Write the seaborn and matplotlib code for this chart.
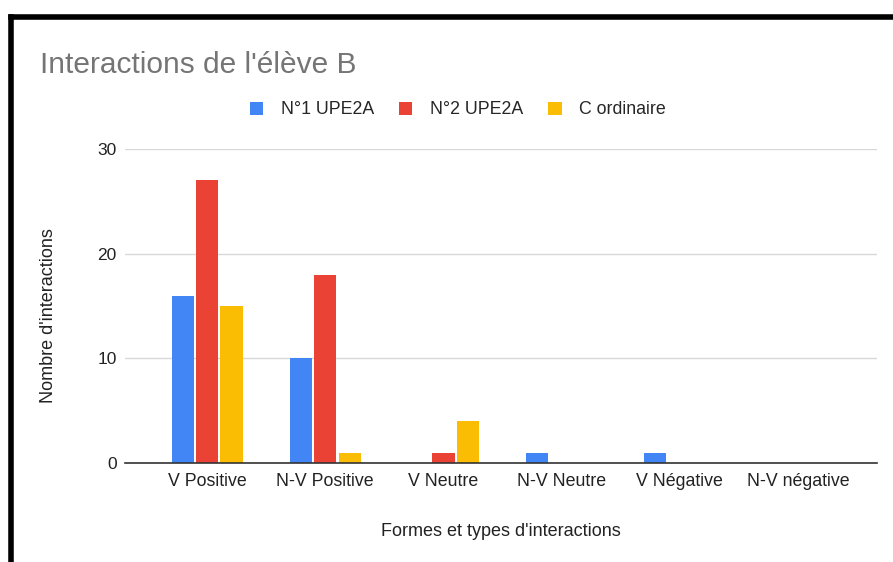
import matplotlib
matplotlib.use("Agg")
import matplotlib.pyplot as plt
import seaborn as sns
import pandas as pd
from matplotlib.lines import Line2D
from matplotlib.patches import Patch

categories = ["V Positive", "N-V Positive", "V Neutre", "N-V Neutre", "V Négative", "N-V négative"]
series_names = ["N°1 UPE2A", "N°2 UPE2A", "C ordinaire"]
n1_upe2a = [16, 10, 0, 1, 1, 0]
n2_upe2a = [27, 18, 1, 0, 0, 0]
c_ordinaire = [15, 1, 4, 0, 0, 0]
colors = ["#4285F4", "#EA4335", "#FBBC04"]
y_ticks = [0, 10, 20, 30]

rows = []
for name, vals in zip(series_names, [n1_upe2a, n2_upe2a, c_ordinaire]):
    for c, v in zip(categories, vals):
        rows.append({"cat": c, "serie": name, "val": v})
df = pd.DataFrame(rows)

sns.set_theme(style="white")
plt.rcParams["font.family"] = ["Liberation Sans", "DejaVu Sans"]

fig = plt.figure(figsize=(8.93, 5.62), dpi=100)
ax = fig.add_axes([125/893, 1-463/562, (877-125)/893, (463-149)/562])

sns.barplot(data=df, x="cat", y="val", hue="serie", order=categories,
            hue_order=series_names, palette=colors, ax=ax, width=0.62,
            saturation=1, legend=False)
for p in ax.patches:
    w = p.get_width()
    p.set_x(p.get_x() + w*0.045)
    p.set_width(w*0.91)
    p.set_edgecolor("none")

ax.set_ylim(0, 30)
ax.set_xlim(-0.5 - 23/118, 5.5 + 20/118)
ax.set_yticks(y_ticks)
ax.yaxis.grid(True, color="#d9d9d9", linewidth=1)
ax.set_axisbelow(True)
for s in ["top", "right", "left"]:
    ax.spines[s].set_visible(False)
ax.spines["bottom"].set_color("#333333")
ax.spines["bottom"].set_linewidth(1.2)
ax.spines["bottom"].set_zorder(5)
ax.tick_params(axis="both", length=0, colors="#222222")
ax.tick_params(axis="x", pad=7, labelsize=12.8)
ax.tick_params(axis="y", pad=6, labelsize=12.5)
ax.set_xlabel("Formes et types d'interactions", fontsize=13, color="#222222", labelpad=24)
ax.set_ylabel("")
fig.text(49/893, 1-316/562, "Nombre d'interactions", fontsize=13, color="#222222",
         rotation=90, ha="center", va="center")

# Title
fig.text(40/893, 1-65/562, "Interactions de l'élève B", fontsize=21.5, color="#757575",
         ha="left", va="center")

# Legend
handles = [Patch(facecolor=c, edgecolor="none") for c in colors]
fig.legend(handles, series_names, loc="center", bbox_to_anchor=(458/893, 1-110/562),
           ncol=3, frameon=False, fontsize=12.8, handlelength=0.75, handleheight=0.75,
           columnspacing=1.4, handletextpad=1.0)

# Black border (cropped screenshot frame)
fig.add_artist(Line2D([10.5/893, 1], [1-16.5/562, 1-16.5/562], color="black", linewidth=4,
                      transform=fig.transFigure, solid_capstyle="projecting"))
fig.add_artist(Line2D([10.5/893, 10.5/893], [1-16.5/562, 0], color="black", linewidth=4,
                      transform=fig.transFigure, solid_capstyle="projecting"))

fig.savefig("out.png", dpi=100)
